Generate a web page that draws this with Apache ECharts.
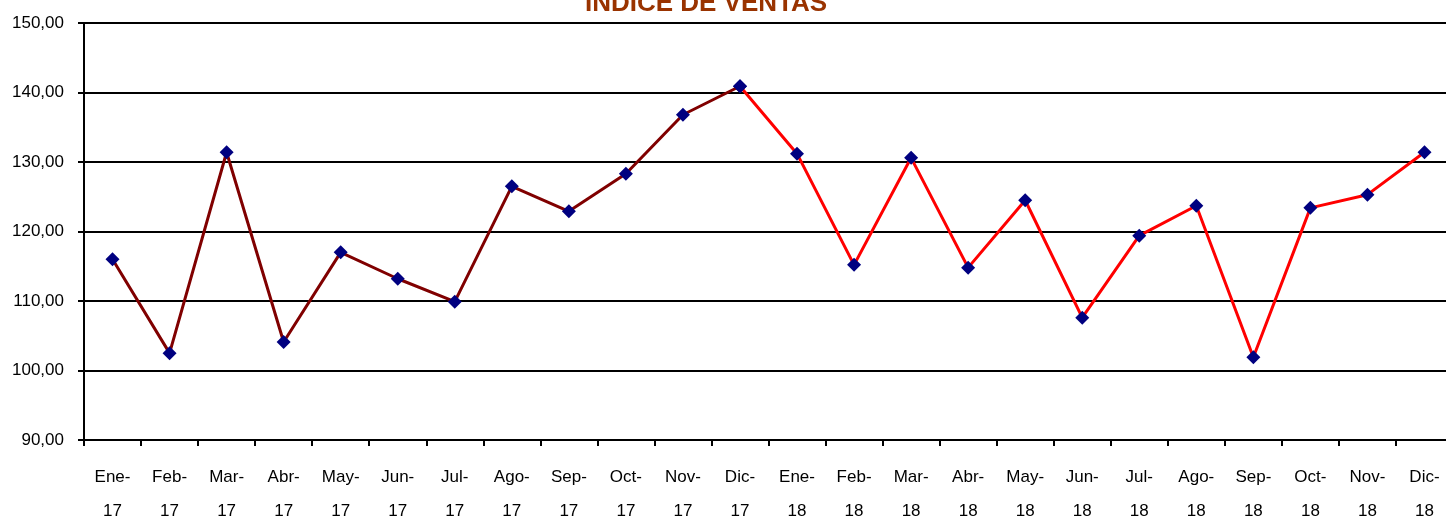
<!DOCTYPE html>
<html><head><meta charset="utf-8">
<script src="https://cdn.jsdelivr.net/npm/echarts@6/dist/echarts.min.js"></script>
<style>html,body{margin:0;padding:0;background:#fff}#c{width:1446px;height:517px}</style>
</head><body><div id="c"></div>
<script>
const categories = ["Ene-\n17","Feb-\n17","Mar-\n17","Abr-\n17","May-\n17","Jun-\n17","Jul-\n17","Ago-\n17","Sep-\n17","Oct-\n17","Nov-\n17","Dic-\n17",
  "Ene-\n18","Feb-\n18","Mar-\n18","Abr-\n18","May-\n18","Jun-\n18","Jul-\n18","Ago-\n18","Sep-\n18","Oct-\n18","Nov-\n18","Dic-\n18"];
const ventas2017 = [116.0,102.5,131.4,104.1,117.0,113.2,109.9,126.5,122.9,128.3,136.8,140.9];
const ventas2018 = [131.2,115.2,130.6,114.8,124.5,107.6,119.4,123.7,101.9,123.4,125.3,131.4];
const title = "ÍNDICE DE VENTAS";

const s1 = categories.map((c,i)=> i<12 ? ventas2017[i] : null);
const s2 = categories.map((c,i)=> i===11 ? ventas2017[11] : (i>11 ? ventas2018[i-12] : null));
const FONT = "'Liberation Sans',Arial,sans-serif";
const chart = echarts.init(document.getElementById('c'));
chart.setOption({
  animation:false,
  title:{text:title,left:580,top:-14,textStyle:{color:'#993300',fontSize:26,fontWeight:'bold',fontFamily:FONT}},
  grid:{left:84,top:23,width:1369,height:417,containLabel:false,outerBoundsMode:'none'},
  xAxis:{type:'category',data:categories,boundaryGap:true,
    axisLine:{lineStyle:{color:'#000',width:2}},
    axisTick:{show:true,length:6,lineStyle:{color:'#000',width:2}},
    axisLabel:{color:'#000',fontSize:17,fontFamily:FONT,lineHeight:34,margin:20,interval:0}},
  yAxis:{type:'value',min:90,max:150,interval:10,
    axisLine:{show:true,lineStyle:{color:'#000',width:2}},
    axisTick:{show:true,length:6,lineStyle:{color:'#000',width:2}},
    splitLine:{show:true,lineStyle:{color:'#000',width:2}},
    axisLabel:{color:'#000',fontSize:17,fontFamily:FONT,margin:20,
      formatter:v=>v.toFixed(2).replace('.',',')}},
  series:[
    {type:'line',data:s1,connectNulls:false,lineStyle:{color:'#800000',width:3},
     symbol:'diamond',symbolSize:14,itemStyle:{color:'#000080'},z:3},
    {type:'line',data:s2,connectNulls:false,lineStyle:{color:'#FF0000',width:3},
     symbol:'diamond',symbolSize:14,itemStyle:{color:'#000080'},z:2}
  ]
});
</script></body></html>
